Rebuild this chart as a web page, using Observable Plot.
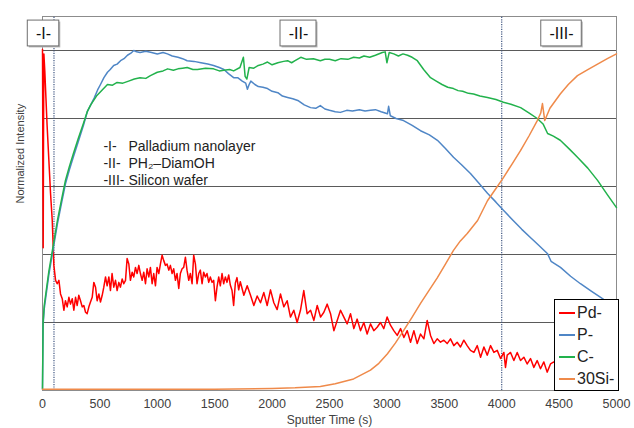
<!DOCTYPE html>
<html><head><meta charset="utf-8">
<script src="https://cdn.jsdelivr.net/npm/d3@7"></script>
<script src="https://cdn.jsdelivr.net/npm/@observablehq/plot@0.6"></script>
<style>
body{margin:0;background:#fff;font-family:"Liberation Sans",Arial,sans-serif;}
#wrap{position:relative;width:634px;height:428px;}
#legend{position:absolute;left:554px;top:299px;width:65px;height:92px;box-sizing:border-box;background:#fff;border:1.5px solid #000;}
#legend .row{position:absolute;left:0;height:22px;display:flex;align-items:center;font-size:16px;color:#222;}
#legend .sw{width:16px;height:2px;margin-left:4px;margin-right:2px;}
</style></head><body><div id="wrap"></div>
<script>
// ---- data ----
const seriesNames = ["Pd-", "P-", "C-", "30Si-"];
const xTicks = [0, 500, 1000, 1500, 2000, 2500, 3000, 3500, 4000, 4500, 5000];
const xTickLabels = ["0","500","1000","1500","2000","2500","3000","3500","4000","4500","5000"];
const dividers = [100, 4000];
const gridValues = [0, 1, 2, 3, 4, 5];
const regionLabels = ["-I-", "-II-", "-III-"];
const regionCenters = [9, 2230, 4521];
const annoLabels = ["-I-", "-II-", "-III-"];
const annoDescs = ["Palladium nanolayer", "PH\u2082\u2013DiamOH", "Silicon wafer"];

const pdData = [
[0,5.02],[3,3.5],[6,2.1],[9,3.8],[12,4.95],[20,4.7],[30,4.3],[40,3.9],[55,3.4],[70,2.9],[85,2.5],[99,1.84],
[114,1.62],[128,1.57],[143,1.62],[157,1.42],[172,1.35],[186,1.18],[200,1.32],[215,1.23],[230,1.37],[244,1.27],
[259,1.35],[273,1.18],[288,1.37],[302,1.25],[316,1.40],[331,1.32],[346,1.23],[360,1.25],[375,1.15],[389,1.13],
[404,1.23],[418,1.30],[433,1.37],[447,1.59],[462,1.52],[476,1.32],[491,1.42],[505,1.30],[520,1.40],[534,1.52],
[549,1.67],[563,1.54],[578,1.67],[592,1.47],[606,1.72],[621,1.52],[636,1.62],[650,1.47],[665,1.59],[679,1.52],
[694,1.64],[708,1.57],[723,1.62],[737,1.94],[752,1.86],[766,1.62],[781,1.74],[795,1.67],[810,1.81],[824,1.72],
[839,1.84],[853,1.72],[868,1.62],[882,1.74],[897,1.57],[911,1.79],[926,1.67],[940,1.81],[955,1.57],[969,1.72],
[984,1.54],[998,1.81],[1013,1.72],[1027,1.86],[1042,1.99],[1056,1.91],[1071,1.84],[1085,1.86],[1100,1.77],
[1114,1.84],[1129,1.72],[1143,1.79],[1158,1.62],[1172,1.72],[1187,1.50],[1201,1.72],[1216,1.79],[1230,1.81],
[1245,1.96],[1259,1.77],[1274,1.62],[1288,1.72],[1303,1.57],[1317,1.99],[1332,1.86],[1346,1.57],[1361,1.72],
[1375,1.77],[1390,1.57],[1404,1.74],[1419,1.67],[1433,1.72],[1448,1.59],[1462,1.67],[1477,1.59],[1491,1.62],
[1506,1.32],[1520,1.52],[1535,1.67],[1549,1.54],[1564,1.72],[1578,1.57],[1593,1.67],[1607,1.59],[1622,1.70],
[1636,1.55],[1651,1.47],[1665,1.25],[1680,1.58],[1694,1.66],[1709,1.48],[1723,1.60],
[1754,1.40],[1783,1.54],[1812,1.40],[1841,1.25],[1870,1.39],[1899,1.29],[1928,1.44],[1957,1.25],[1986,1.48],
[2015,1.29],[2044,1.19],[2073,1.42],[2102,1.23],[2131,1.32],[2160,1.08],[2189,1.18],[2218,1.00],[2247,1.18],
[2276,1.47],[2305,1.13],[2335,1.18],[2364,1.03],[2393,1.25],[2422,1.08],[2451,1.15],[2480,1.27],[2509,1.13],
[2538,0.88],[2567,1.03],[2596,1.18],[2625,1.08],[2654,0.98],[2683,1.13],[2712,0.91],[2741,1.05],[2770,0.88],
[2799,1.00],[2828,0.83],[2857,0.98],[2886,0.88],[2915,0.93],[2944,1.00],[2973,0.91],[3002,1.08],[3031,0.96],
[3060,0.88],[3090,0.81],[3119,0.91],[3148,0.78],[3177,0.88],[3206,0.71],[3235,0.88],[3264,0.69],[3293,0.83],
[3322,0.76],[3351,1.03],[3380,0.81],[3409,0.69],[3438,0.76],[3467,0.71],[3496,0.74],[3525,0.69],[3554,0.76],
[3583,0.66],[3612,0.71],[3641,0.64],[3670,0.74],[3699,0.66],[3728,0.59],[3758,0.56],[3787,0.66],[3816,0.49],
[3845,0.64],[3874,0.52],[3903,0.66],[3932,0.56],[3961,0.59],[3990,0.47],[4019,0.56],[4033,0.34],[4048,0.52],
[4077,0.56],[4106,0.44],[4135,0.56],[4164,0.44],[4193,0.49],[4222,0.39],[4251,0.47],[4280,0.34],[4309,0.44],
[4338,0.32],[4367,0.42],[4396,0.27],[4425,0.39],[4454,0.42],[4500,0.36],[4600,0.35],[4700,0.32],[4800,0.31],
[4900,0.29],[5000,0.28]
];

const pData = [
[0,0.02],[3,0.55],[5,0.95],[15,1.2],[35,1.45],[55,1.7],[80,1.95],[105,2.2],[130,2.45],[165,2.75],[200,3.04],
[235,3.25],[270,3.44],[310,3.65],[357,3.9],[390,4.1],[420,4.2],[450,4.3],[480,4.42],[505,4.5],[535,4.6],
[566,4.68],[590,4.72],[620,4.78],[650,4.8],[680,4.85],[710,4.88],[740,4.93],[770,4.96],[795,5.0],[820,4.98],
[850,4.97],[900,4.99],[950,4.97],[1000,4.95],[1050,4.97],[1088,4.95],[1130,4.92],[1180,4.9],[1220,4.88],
[1260,4.85],[1320,4.84],[1380,4.82],[1440,4.80],[1490,4.78],[1540,4.75],[1580,4.72],[1620,4.66],[1665,4.6],
[1700,4.6],[1740,4.55],[1770,4.52],[1785,4.43],[1800,4.5],[1815,4.55],[1850,4.5],[1880,4.47],[1920,4.46],
[1960,4.44],[2000,4.40],[2050,4.38],[2090,4.33],[2135,4.31],[2180,4.29],[2230,4.26],[2280,4.2],[2335,4.16],
[2380,4.15],[2420,4.19],[2460,4.14],[2500,4.12],[2550,4.1],[2595,4.09],[2650,4.12],[2700,4.11],[2760,4.13],
[2810,4.11],[2857,4.12],[2900,4.13],[2950,4.1],[3005,4.07],[3015,4.18],[3030,4.04],[3080,4.0],[3145,3.97],
[3220,3.9],[3293,3.82],[3370,3.76],[3440,3.68],[3510,3.56],[3580,3.43],[3650,3.32],[3728,3.19],[3800,3.05],
[3876,2.9],[3950,2.77],[4015,2.65],[4100,2.5],[4175,2.37],[4250,2.25],[4320,2.14],[4400,2.01],[4430,1.9],
[4512,1.81],[4600,1.68],[4686,1.57],[4780,1.46],[4878,1.35],[5000,1.2]
];

const cData = [
[0,0.03],[3,0.6],[5,1.0],[15,1.25],[35,1.5],[55,1.75],[80,2.0],[105,2.25],[130,2.5],[165,2.8],[200,3.09],
[235,3.3],[270,3.49],[310,3.7],[357,3.93],[390,4.1],[420,4.2],[470,4.33],[520,4.42],[566,4.5],[610,4.49],
[650,4.53],[700,4.52],[750,4.55],[800,4.58],[850,4.6],[900,4.59],[940,4.63],[1000,4.68],[1050,4.70],
[1090,4.73],[1140,4.71],[1180,4.73],[1220,4.74],[1260,4.75],[1310,4.72],[1350,4.72],[1420,4.74],[1490,4.73],
[1540,4.70],[1580,4.71],[1630,4.72],[1665,4.7],[1720,4.75],[1750,4.9],[1765,4.62],[1780,4.58],[1800,4.75],
[1840,4.74],[1880,4.78],[1920,4.8],[1960,4.83],[2000,4.79],[2050,4.82],[2100,4.84],[2135,4.85],[2170,4.82],
[2200,4.85],[2250,4.9],[2300,4.87],[2360,4.88],[2420,4.85],[2460,4.87],[2500,4.87],[2550,4.85],[2600,4.88],
[2660,4.87],[2710,4.9],[2760,4.89],[2800,4.92],[2850,4.9],[2900,4.93],[2960,4.97],[2985,4.98],[3000,4.82],
[3020,4.97],[3060,4.95],[3100,4.92],[3140,4.95],[3180,4.93],[3220,4.9],[3265,4.85],[3320,4.72],[3380,4.6],
[3430,4.55],[3480,4.5],[3530,4.46],[3580,4.44],[3620,4.41],[3660,4.4],[3710,4.37],[3755,4.36],[3810,4.33],
[3876,4.31],[3950,4.28],[4015,4.24],[4080,4.21],[4165,4.16],[4240,4.08],[4310,4.0],[4360,3.92],[4400,3.78],
[4450,3.74],[4510,3.68],[4590,3.55],[4660,3.43],[4750,3.27],[4835,3.09],[4920,2.88],[5000,2.69]
];

const siData = [
[0,0.02],[500,0.02],[1000,0.02],[1500,0.02],[2000,0.03],[2200,0.04],[2420,0.06],[2550,0.1],[2710,0.17],
[2857,0.3],[2930,0.4],[3005,0.54],[3075,0.7],[3145,0.88],[3220,1.08],[3293,1.28],[3370,1.48],[3440,1.66],
[3510,1.86],[3580,2.06],[3640,2.2],[3700,2.31],[3790,2.5],[3876,2.79],[3950,2.97],[4015,3.13],[4090,3.33],
[4165,3.53],[4240,3.75],[4310,3.97],[4340,4.08],[4355,4.22],[4375,3.97],[4420,4.15],[4510,4.36],[4580,4.5],
[4660,4.63],[4750,4.72],[4835,4.8],[4920,4.88],[5000,4.95]
];

// ---- styles ----
const colors = ["#ff0000", "#4f86c6", "#22b24c", "#ef8a4a"];
const font = "'Liberation Sans', Arial, sans-serif";
const series = [pdData, pData, cData, siData];

const lineMarks = series.map((s, i) =>
  Plot.line(s, {x: d => d[0], y: d => d[1], stroke: colors[i], strokeWidth: 1.5}));

const boxHalf = l => 9 + 2.25 * l.length;

const chart = Plot.plot({
  width: 634, height: 428,
  marginLeft: 42, marginRight: 18, marginTop: 16, marginBottom: 38,
  x: {domain: [0, 5000]},
  y: {domain: [0, 5.5], axis: null},
  style: {fontFamily: font, background: "white", overflow: "visible"},
  marks: [
    Plot.ruleY(gridValues, {stroke: "#5a5a5a", strokeWidth: 1}),
    Plot.frame({stroke: "#8c8c8c"}),
    Plot.ruleX(dividers, {y1: 0, y2: 5.5, stroke: "#3f5580", strokeWidth: 1.2, strokeDasharray: "1.2,1.2"}),
    ...lineMarks,
    Plot.axisX({ticks: xTicks, tickFormat: (d) => xTickLabels[xTicks.indexOf(d)], tickSize: 0, tickPadding: 9,
      fontSize: 12.5, fill: "#404040", label: null}),
    Plot.text(["Sputter Time (s)"], {frameAnchor: "bottom", dy: 30, fontSize: 12, fill: "#404040", lineAnchor: "middle"}),
    Plot.text(["Normalized Intensity"], {frameAnchor: "left", dx: -22, rotate: -90, fontSize: 11, fill: "#404040", lineAnchor: "middle"}),
    // region label boxes
    ...regionLabels.map((l, i) => Plot.rect([l], {x1: regionCenters[i], x2: regionCenters[i], y1: 5.06, y2: 5.44,
      insetLeft: -boxHalf(l), insetRight: -boxHalf(l), fill: "#b5b5b5", dx: 1.5, dy: 1.5})),
    ...regionLabels.map((l, i) => Plot.rect([l], {x1: regionCenters[i], x2: regionCenters[i], y1: 5.06, y2: 5.44,
      insetLeft: -boxHalf(l), insetRight: -boxHalf(l), fill: "white", stroke: "#6e6e6e", strokeWidth: 1})),
    Plot.text(regionLabels, {x: (d, i) => regionCenters[i], y: 5.25, text: d => d, fontSize: 16, fill: "#111", lineAnchor: "middle"}),
    // annotation
    Plot.text(annoLabels, {x: 531, y: (d, i) => 3.588 - 0.25 * i, text: d => d, textAnchor: "start", fontSize: 14, fill: "#222", lineAnchor: "middle"}),
    Plot.text(annoDescs, {x: 749, y: (d, i) => 3.588 - 0.25 * i, text: d => d, textAnchor: "start", fontSize: 14, fill: "#222", lineAnchor: "middle"})
  ]
});

const wrap = document.getElementById("wrap");
wrap.appendChild(chart);

// legend overlay (inside plot area, bottom-right)
const legend = document.createElement("div");
legend.id = "legend";
seriesNames.forEach((name, i) => {
  const row = document.createElement("div");
  row.className = "row";
  row.style.top = (2 + 22 * i) + "px";
  const sw = document.createElement("span");
  sw.className = "sw";
  sw.style.background = colors[i];
  const tx = document.createElement("span");
  tx.textContent = name;
  row.appendChild(sw); row.appendChild(tx);
  legend.appendChild(row);
});
wrap.appendChild(legend);
</script></body></html>
